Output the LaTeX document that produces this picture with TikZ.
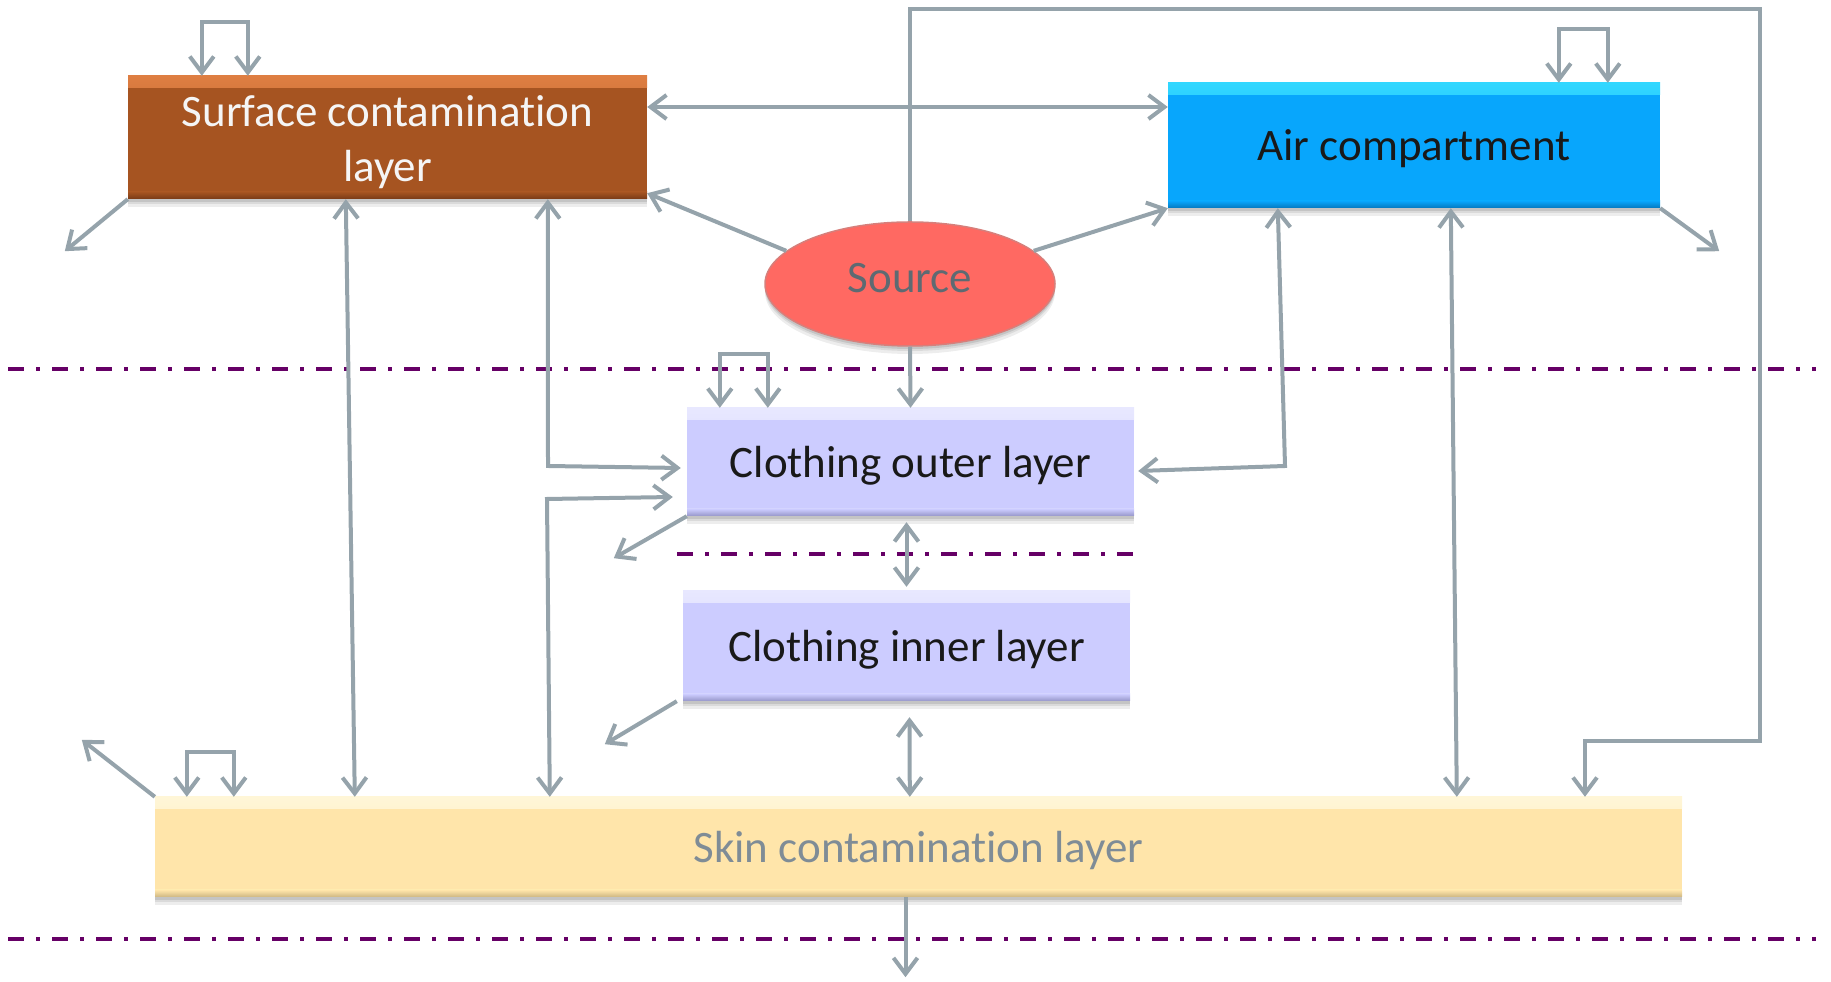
\documentclass[tikz,border=0pt]{standalone}
\usepackage{fontspec}
\setmainfont{Carlito}[Ligatures=NoCommon]
\usetikzlibrary{arrows.meta,shapes.geometric,shadows}

\definecolor{arrowgray}{RGB}{149,163,171}
\definecolor{dashpurple}{RGB}{102,0,102}
\definecolor{surfbase}{RGB}{166,84,33}
\definecolor{surflight}{RGB}{222,126,66}
\definecolor{surfdark}{RGB}{120,58,22}
\definecolor{airbase}{RGB}{8,166,252}
\definecolor{airlight}{RGB}{50,215,255}
\definecolor{airdark}{RGB}{5,120,190}
\definecolor{srcfill}{RGB}{255,105,98}
\definecolor{srcedge}{RGB}{196,72,66}
\definecolor{clothbase}{RGB}{204,204,255}
\definecolor{clothlight}{RGB}{232,232,255}
\definecolor{clothdark}{RGB}{150,150,200}
\definecolor{skinbase}{RGB}{255,229,170}
\definecolor{skinlight}{RGB}{255,246,215}
\definecolor{skindark}{RGB}{205,182,130}
\definecolor{skintext}{RGB}{127,140,150}
\definecolor{srctext}{RGB}{94,106,114}
\definecolor{surftext}{RGB}{245,245,245}
\definecolor{darktext}{RGB}{25,25,25}

\tikzset{
  lbl/.style={font=\fontsize{45}{55}\selectfont, align=center},
  oneline/.style={text height=40pt, text depth=9pt},
  softshadow/.style={
    drop shadow={opacity=0.07, shadow xshift=0pt, shadow yshift=-8pt, fill=black},
    drop shadow={opacity=0.08, shadow xshift=0pt, shadow yshift=-5pt, fill=black},
    drop shadow={opacity=0.10, shadow xshift=0pt, shadow yshift=-3pt, fill=black}},
  bevelbox/.style n args={3}{rectangle, inner sep=0pt, fill=#1, softshadow,
    path picture={
      \shade[top color=#2, bottom color=#1]
        (path picture bounding box.north west) rectangle
        ([yshift=-12pt]path picture bounding box.north east);
      \shade[top color=#1, bottom color=#3]
        ([yshift=7pt]path picture bounding box.south west) rectangle
        (path picture bounding box.south east);
    }},
  arr/.style={draw=arrowgray, line width=4pt,
    arrows={-{Straight Barb[length=16pt,width=24pt]}}},
  arrboth/.style={draw=arrowgray, line width=4pt,
    arrows={{Straight Barb[length=16pt,width=24pt]}-{Straight Barb[length=16pt,width=24pt]}}},
  dline/.style={draw=dashpurple, line width=4pt,
    dash pattern=on 16pt off 12pt on 4pt off 12pt},
}

\begin{document}
\begin{tikzpicture}[x=1pt,y=1pt]
\useasboundingbox (0,0) rectangle (1831,982);

% compartment boundaries
\draw[dline] (8,613) -- (1816,613);
\draw[dline] (677,428) -- (1133,428);
\draw[dline] (8,43) -- (1816,43);

% compartments
\node[bevelbox={surfbase}{surflight}{surfdark}, minimum width=519pt, minimum height=123pt,
      label={[lbl, text=surftext, yshift=-5pt]center:{Surface contamination\\layer}}]
      (surf) at (387.5,844.5) {};
\node[bevelbox={airbase}{airlight}{airdark}, minimum width=492pt, minimum height=125pt,
      lbl, oneline, text=darktext] (air) at (1414,836.5) {Air compartment};
\node[ellipse, inner sep=0pt, minimum width=290pt, minimum height=124pt, fill=srcfill,
      draw=srcedge!70, line width=1.5pt, softshadow, lbl, text height=27pt, text depth=9pt,
      text=srctext] (src) at (910,698) {Source};
\node[bevelbox={clothbase}{clothlight}{clothdark}, minimum width=447pt, minimum height=108pt,
      lbl, oneline, text=darktext] (outer) at (910.5,520) {Clothing outer layer};
\node[bevelbox={clothbase}{clothlight}{clothdark}, minimum width=447pt, minimum height=110pt,
      lbl, oneline, text=darktext] (inner) at (906.5,336) {Clothing inner layer};
\node[bevelbox={skinbase}{skinlight}{skindark}, minimum width=1527pt, minimum height=100pt,
      lbl, oneline, text=skintext] (skin) at (918.5,135) {Skin contamination layer};

% corner points of the routed connectors
\coordinate (tr) at (1760,973);
\coordinate (br) at (1760,241);
\coordinate (bl) at (1585,241);
\coordinate (k1) at (548,516);
\coordinate (k2) at (547,483);
\coordinate (k3) at (1285,516);

% exchange between surface and air
\draw[arrboth] ([yshift=30.5pt]surf.east) -- ([yshift=38.5pt]air.west);

% source emissions
\draw[arr] (src.165) -- ([yshift=6pt]surf.south east);
\draw[arr] (src.15) -- (air.south west);
\draw[arr] (src.north) |- (tr) -- (br) -- (bl) -- (bl |- skin.north);
\draw[arr] (src.south) -- (outer.north);

% self loops
\draw[arrboth] ([xshift=74pt]surf.north west) -- ++(0,54) -| ([xshift=120pt]surf.north west);
\draw[arrboth] ([xshift=391pt]air.north west) -- ++(0,54) -| ([xshift=440pt]air.north west);
\draw[arrboth] ([xshift=33pt]outer.north west) -- ++(0,54) -| ([xshift=81pt]outer.north west);
\draw[arrboth] ([xshift=32pt]skin.north west) -- ++(0,45) -| ([xshift=79pt]skin.north west);

% losses
\draw[arr] (surf.south west) -- ++(-63,-52);
\draw[arr] (air.south east) -- ++(59,-43);
\draw[arr] (outer.south west) -- ++(-73,-42);
\draw[arr] ([xshift=-6pt]inner.south west) -- ++(-72,-43);
\draw[arr] (skin.north west) -- ++(-73,57);
\draw[arr] ([xshift=-13pt]skin.south) -- ++(0,-80);

% transfers between compartments
\draw[arrboth] ([xshift=218pt]surf.south west) -- ([xshift=200pt]skin.north west);
\draw[arrboth] ([xshift=420pt]surf.south west) -- (k1) -- ([xshift=-6pt,yshift=-6pt]outer.west);
\draw[arrboth] ([xshift=395pt]skin.north west) -- (k2) -- ([xshift=-14pt,yshift=-35pt]outer.west);
\draw[arrboth] ([xshift=110pt]air.south west) -- (k3) -- ([xshift=4pt,yshift=-9pt]outer.east);
\draw[arrboth] ([xshift=283pt]air.south west) -- ([xshift=1302pt]skin.north west);
\draw[arrboth] ([xshift=-4pt,yshift=-6pt]outer.south) -- ([yshift=4pt]inner.north);
\draw[arrboth] ([xshift=3pt,yshift=-16pt]inner.south) -- ([xshift=755pt]skin.north west);
\end{tikzpicture}
\end{document}
